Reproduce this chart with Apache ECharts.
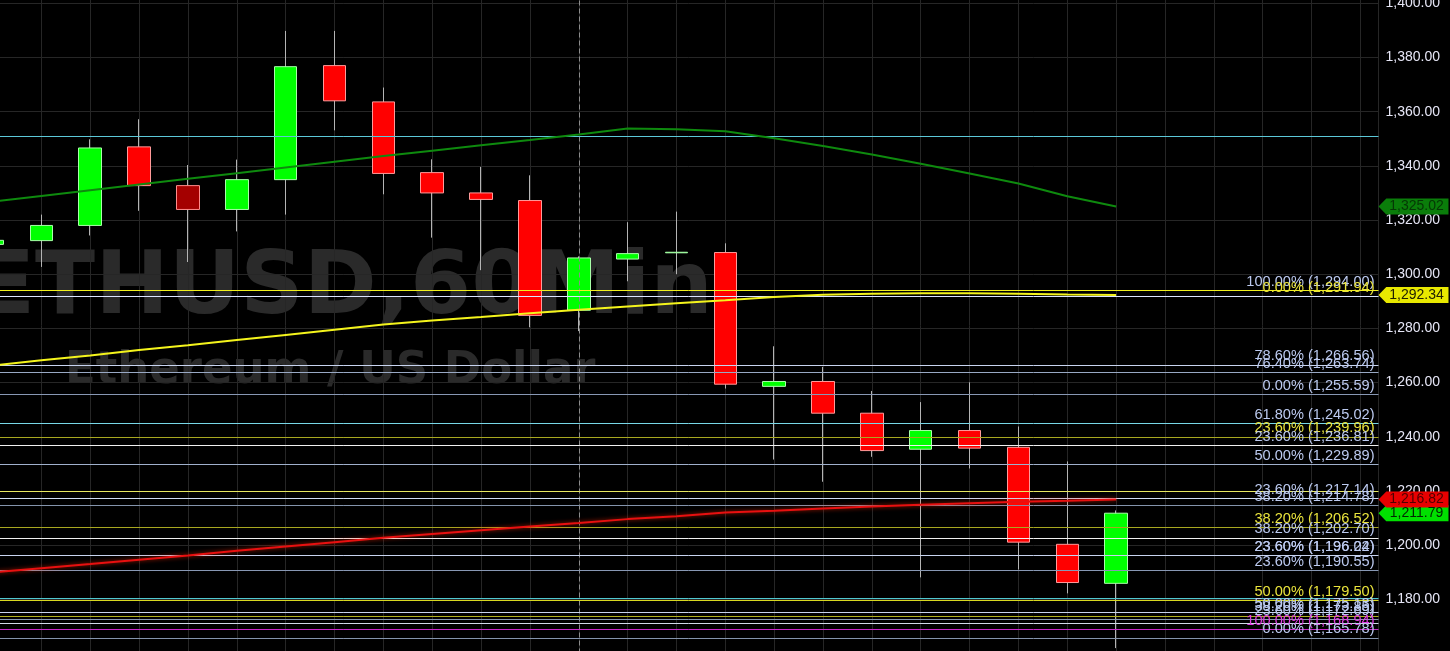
<!DOCTYPE html>
<html>
<head>
<meta charset="utf-8">
<script src="https://cdn.jsdelivr.net/npm/echarts@6/dist/echarts.min.js"></script>
<style>
html,body{margin:0;padding:0;background:#000;}
#chart{width:1450px;height:651px;}
</style>
</head>
<body>
<div id="chart"></div>
<script>
// ---- data ----
const candleIndex = [0,1,2,3,4,5,6,7,8,9,10,11,12,13,14,15,16,17,18,19,20,21,22,23];
const opens  = [1311.0,1312.4,1318.0,1347.0,1332.7,1323.9,1334.9,1377.0,1363.6,1337.5,1330.0,1327.2,1286.7,1305.6,1307.9,1308.0,1258.6,1260.4,1248.7,1235.4,1242.3,1236.1,1200.3,1185.9];
const closes = [1312.5,1318.0,1346.6,1332.7,1323.9,1334.9,1376.6,1364.0,1337.2,1330.0,1327.6,1284.8,1306.0,1307.6,1308.1,1259.4,1260.4,1248.7,1234.9,1242.3,1235.8,1201.1,1186.2,1211.79];
const lows   = [1310.5,1302.7,1314.3,1323.4,1304.5,1315.8,1322.0,1353.1,1329.5,1313.5,1301.5,1280.4,1279.0,1297.4,1300.0,1257.8,1231.6,1223.4,1232.6,1188.1,1228.3,1191.0,1182.2,1162.0];
const highs  = [1313.0,1322.0,1349.8,1357.2,1340.3,1342.3,1389.8,1389.8,1368.9,1342.4,1339.6,1336.5,1306.6,1319.2,1323.1,1311.4,1273.4,1265.8,1256.9,1252.8,1260.1,1243.8,1230.9,1212.8];
const darkCandles = [4];

const maGreen  = [1326.8,1328.9,1331.0,1333.1,1335.2,1337.3,1339.4,1341.5,1343.6,1345.6,1347.6,1349.5,1351.6,1353.8,1353.5,1352.8,1350.2,1347.3,1344.2,1340.8,1337.2,1333.5,1328.8,1325.02];
const maYellow = [1266.3,1268.2,1270.0,1272.0,1273.8,1275.7,1277.6,1279.5,1281.4,1282.9,1284.2,1285.6,1286.9,1288.1,1289.3,1290.4,1291.6,1292.4,1292.8,1293.0,1293.0,1292.8,1292.5,1292.34];
const maRed    = [1189.9,1191.5,1193.0,1194.6,1196.2,1197.9,1199.5,1201.1,1202.7,1204.1,1205.5,1206.9,1208.2,1209.6,1210.7,1212.0,1212.7,1213.5,1214.3,1214.9,1215.5,1216.0,1216.4,1216.82];

const levelValues = [1350.8,1294.00,1291.94,1266.56,1263.74,1255.59,1245.02,1239.96,1236.81,1229.89,1219.9,1217.14,1214.78,1206.52,1202.70,1196.22,1196.04,1190.55,1180.5,1179.50,1175.13,1173.9,1172.7,1171.1,1168.94,1165.78];
const levelLabels = ['','100.00% (1,294.00)','0.00% (1,291.94)','78.60% (1,266.56)','76.40% (1,263.74)','0.00% (1,255.59)','61.80% (1,245.02)','23.60% (1,239.96)','23.60% (1,236.81)','50.00% (1,229.89)','','23.60% (1,217.14)','38.20% (1,214.78)','38.20% (1,206.52)','38.20% (1,202.70)','23.60% (1,196.22)','23.60% (1,196.04)','23.60% (1,190.55)','','50.00% (1,179.50)','50.00% (1,175.13)','38.20% (1,173.85)','23.60% (1,172.69)','','100.00% (1,168.94)','0.00% (1,165.78)'];
const dividerIndex = 12;

// ---- styles ----
const LAV = '#bccaf0', YEL = '#eae43c', MAG = '#e23ce2';
const levelLabelColors = ['',LAV,YEL,LAV,LAV,LAV,LAV,YEL,LAV,LAV,'',LAV,LAV,YEL,LAV,LAV,LAV,LAV,'',YEL,LAV,LAV,LAV,'',MAG,LAV];
const levelLineColors = ['#5cc8d8','#f0f020','#dde6ff','#c8d4f0','#98a8c4','#8898b4','#78d8e8','#a8a820','#f0f0f0','#a0b0cc','#e8e860','#d0dcf4','#8494ac','#a8a820','#f0f0f0','#c8d4f0','rgba(0,0,0,0)','#8898b4','#50c8d0','#d8d820','#c8d4f0','#b0b020','#8898b4','#d0d8e8','#c828c8','#8494ac'];

const FONT = '"Liberation Sans", Arial, sans-serif';
const X_MIN = -1, X_MAX = 28.37;

function fmt(v){
  const s = v.toFixed(2);
  const parts = s.split('.');
  parts[0] = parts[0].replace(/\B(?=(\d{3})+(?!\d))/g, ',');
  return parts.join('.');
}

const last = candleIndex.length - 1;
function tag(value, bg, fg){
  return {
    symbol: 'path://M0,8L8,0L72,0L72,16L8,16Z',
    symbolSize: [70, 16],
    symbolOffset: [35, 0],
    symbolKeepAspect: false,
    silent: true,
    animation: false,
    data: [{coord: [X_MAX, value], value: value,
      itemStyle: {color: bg},
      label: {show: true, position: 'inside', offset: [3, 0], formatter: fmt(value), color: fg, fontSize: 14, fontFamily: FONT}}]
  };
}

const wickData = candleIndex.map(i => [i, opens[i], closes[i], lows[i], highs[i]]);
const bodyData = candleIndex.map(i => {
  const v = [i, opens[i], closes[i], Math.min(opens[i], closes[i]), Math.max(opens[i], closes[i])];
  if (darkCandles.indexOf(i) >= 0) {
    return {value: v, itemStyle: {color0: '#a40000', borderColor0: '#ff8c8c'}};
  }
  return v;
});

const chart = echarts.init(document.getElementById('chart'), null, {renderer: 'canvas'});
chart.setOption({
  animation: false,
  backgroundColor: '#000000',
  grid: {left: -56.34, right: 71.5, top: -50.9, bottom: -2.5, containLabel: false, outerBoundsMode: 'none'},
  graphic: [
    {type: 'text', z: -10, silent: true, style: {x: -25, y: 290, text: 'ETHUSD,60Min', font: 'bold 88px "DejaVu Sans"', fill: '#2a2a2a', verticalAlign: 'middle'}},
    {type: 'text', z: -10, silent: true, style: {x: 65, y: 371, text: 'Ethereum / US Dollar', font: 'bold 45px "DejaVu Sans"', fill: '#2a2a2a', verticalAlign: 'middle'}}
  ],
  xAxis: {
    type: 'value', min: X_MIN, max: X_MAX, interval: 1,
    axisLine: {show: false}, axisTick: {show: false}, axisLabel: {show: false},
    splitLine: {show: true, lineStyle: {color: '#262626', width: 1}}
  },
  yAxis: {
    type: 'value', position: 'right', min: 1160, max: 1420, interval: 20,
    axisLine: {show: true, lineStyle: {color: '#b00000', width: 1}},
    axisTick: {show: true, length: 5, lineStyle: {color: '#b00000'}},
    axisLabel: {color: '#e6e6f6', fontSize: 14, fontFamily: FONT, margin: 7, formatter: fmt, showMinLabel: false},
    splitLine: {show: true, lineStyle: {color: '#262626', width: 1}}
  },
  series: [
    {
      name: 'wick', type: 'candlestick', z: 2, data: wickData, encode: {x: 0, y: [1, 2, 3, 4]},
      barWidth: 1,
      itemStyle: {color: '#b4b4b4', color0: '#b4b4b4', borderColor: '#b4b4b4', borderColor0: '#b4b4b4', borderWidth: 1},
      markLine: {
        symbol: ['none', 'none'], silent: true, animation: false,
        label: {show: false},
        data: [{xAxis: dividerIndex, lineStyle: {color: '#8c8c8c', type: [5, 3], width: 1}}]
      }
    },
    {
      name: 'body', type: 'candlestick', z: 3, data: bodyData, encode: {x: 0, y: [1, 2, 3, 4]},
      barWidth: 23,
      itemStyle: {color: '#00ff00', color0: '#ff0000', borderColor: '#a8ffa8', borderColor0: '#ff9a9a', borderWidth: 1},
      markPoint: tag(closes[last], '#00e000', '#002800')
    },
    {
      name: 'levels', type: 'line', z: 4, data: [], silent: true,
      markLine: {
        symbol: ['none', 'none'], silent: true, animation: false,
        data: levelValues.map((v, i) => ({
          yAxis: v,
          lineStyle: {color: levelLineColors[i], width: 1, type: 'solid'},
          label: {show: !!levelLabels[i], formatter: levelLabels[i] || '', color: levelLabelColors[i] || LAV,
                  position: 'insideEndTop', fontSize: 14.6, fontFamily: FONT, distance: 1, padding: [0, 3, 0, 0]}
        }))
      }
    },
    {
      name: 'MA green', type: 'line', z: 5, showSymbol: false, silent: true,
      data: candleIndex.map(i => [i, maGreen[i]]),
      lineStyle: {color: '#0e8a0e', width: 2},
      markPoint: tag(maGreen[last], '#0a7d0a', '#053805')
    },
    {
      name: 'MA yellow', type: 'line', z: 5, showSymbol: false, silent: true,
      data: candleIndex.map(i => [i, maYellow[i]]),
      lineStyle: {color: '#f4f41c', width: 2},
      markPoint: tag(maYellow[last], '#e8e800', '#202000')
    },
    {
      name: 'MA red', type: 'line', z: 5, showSymbol: false, silent: true,
      data: candleIndex.map(i => [i, maRed[i]]),
      lineStyle: {color: '#e81010', width: 2, shadowBlur: 4, shadowColor: 'rgba(255,40,0,0.7)'},
      markPoint: tag(maRed[last], '#e80000', '#500000')
    }
  ]
});
</script>
</body>
</html>
